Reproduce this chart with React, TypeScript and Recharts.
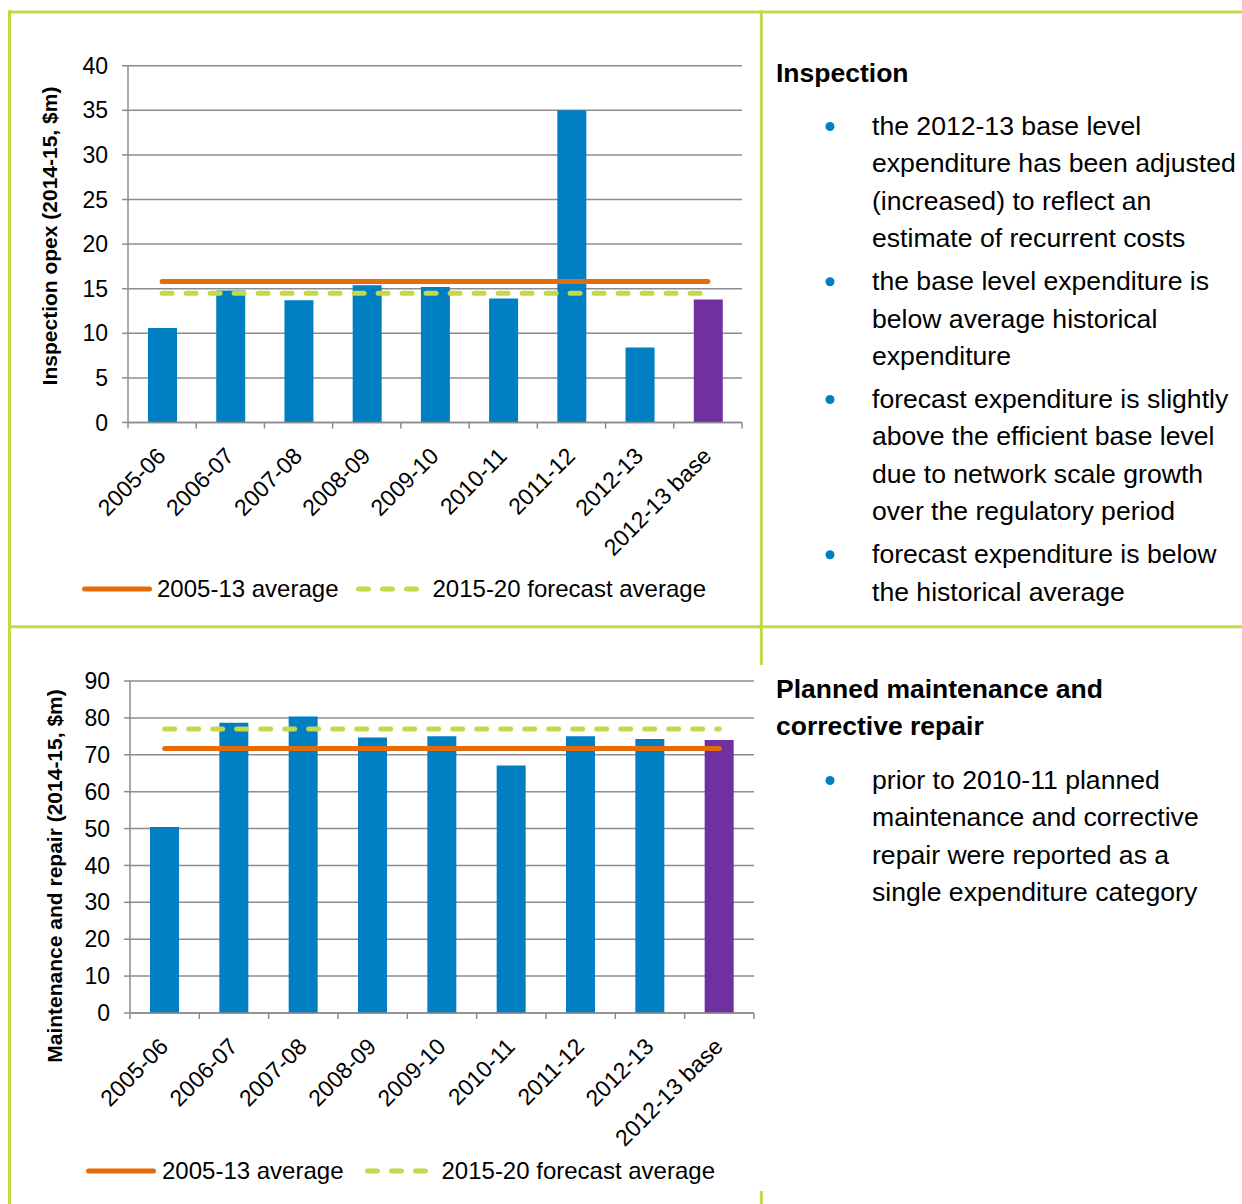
import React from 'react';
import { ComposedChart, Bar, Line, XAxis, YAxis, CartesianGrid, Legend, Cell, Label } from 'recharts';

// ---- data ----
const categories = ['2005-06', '2006-07', '2007-08', '2008-09', '2009-10', '2010-11', '2011-12', '2012-13', '2012-13 base'];

const inspectionValues = [10.6, 14.8, 13.7, 15.4, 15.2, 13.9, 35.0, 8.4, 13.8];
const inspectionHistoricAverage = 15.8;
const inspectionForecastAverage = 14.5;
const inspectionTicks = [0, 5, 10, 15, 20, 25, 30, 35, 40];

const maintenanceValues = [50.4, 78.7, 80.4, 74.7, 75.0, 67.1, 75.0, 74.3, 74.0];
const maintenanceHistoricAverage = 71.7;
const maintenanceForecastAverage = 77.0;
const maintenanceTicks = [0, 10, 20, 30, 40, 50, 60, 70, 80, 90];

const historicName = '2005-13 average';
const forecastName = '2015-20 forecast average';

const inspectionTitle = ['Inspection'];
const inspectionNotes = [
  ['the 2012-13 base level', 'expenditure has been adjusted', '(increased) to reflect an', 'estimate of recurrent costs'],
  ['the base level expenditure is', 'below average historical', 'expenditure'],
  ['forecast expenditure is slightly', 'above the efficient base level', 'due to network scale growth', 'over the regulatory period'],
  ['forecast expenditure is below', 'the historical average'],
];
const maintenanceTitle = ['Planned maintenance and', 'corrective repair'];
const maintenanceNotes = [
  ['prior to 2010-11 planned', 'maintenance and corrective', 'repair were reported as a', 'single expenditure category'],
];

// ---- styles ----
const FONT = "'Liberation Sans', Arial, Helvetica, sans-serif";
const BLUE = '#0080c3';
const PURPLE = '#7030a0';
const ORANGE = '#e46c0a';
const LIME = '#c5d84a';
const GRID = '#8c8c8c';
const BORDER = '#c4d745';
const DASH = '10 14';

type Frame = {
  top: number;
  width: number;
  height: number;
  plotLeft: number;
  plotTop: number;
  plotRight: number;
  plotBottom: number;
  legendTop: number;
  legendLeft: number;
  legendGaps: [number, number, number];
  labelX: number;
  labelY: number;
};

const X_AXIS_HEIGHT = 140;
const LEGEND_HEIGHT = 30;

function OpexChart(props: {
  values: number[];
  historic: number;
  forecast: number;
  ticks: number[];
  yLabel: string;
  frame: Frame;
}) {
  const { values, historic, forecast, ticks, yLabel, frame } = props;
  const data = categories.map((name, i) => ({ name, value: values[i], historic, forecast }));
  const step = (frame.plotRight - frame.plotLeft) / categories.length;
  const margin = {
    top: frame.plotTop,
    right: frame.width - frame.plotRight,
    left: 0,
    bottom: frame.height - frame.plotBottom - X_AXIS_HEIGHT - LEGEND_HEIGHT,
  };

  // category label rotated 45°, plus tick marks on the category boundaries
  const renderTick = (p: any) => {
    const { x, y, payload, index } = p;
    const lx = x + 5;
    const ly = y + 35;
    return (
      <g>
        <line x1={x - step / 2} y1={y} x2={x - step / 2} y2={y + 6} stroke={GRID} strokeWidth={1.5} />
        {index === categories.length - 1 && (
          <line x1={x + step / 2} y1={y} x2={x + step / 2} y2={y + 6} stroke={GRID} strokeWidth={1.5} />
        )}
        <text
          x={lx}
          y={ly}
          transform={`rotate(-45 ${lx} ${ly})`}
          textAnchor="end"
          fontSize={23}
          fill="#000"
        >
          {payload.value}
        </text>
      </g>
    );
  };

  const [g0, g1, g2] = frame.legendGaps;
  const renderLegend = (lp: any) => {
    const items = (lp.payload || []).filter((e: any) => e.dataKey !== 'value');
    return (
      <div
        style={{
          display: 'flex',
          alignItems: 'center',
          height: LEGEND_HEIGHT,
          fontSize: 24,
          color: '#000',
          whiteSpace: 'nowrap',
          fontFamily: FONT,
        }}
      >
        {items.map((e: any, i: number) => {
          const dashed = e.dataKey === 'forecast';
          const w = dashed ? 63 : 70;
          return (
            <React.Fragment key={i}>
              <svg width={w} height={10} style={{ marginLeft: i === 0 ? 0 : g1, display: 'block' }}>
                <line
                  x1={2.5}
                  y1={5}
                  x2={w - 2.5}
                  y2={5}
                  stroke={e.color}
                  strokeWidth={5}
                  strokeLinecap="round"
                  strokeDasharray={dashed ? DASH : undefined}
                />
              </svg>
              <span style={{ marginLeft: dashed ? g2 : g0 }}>{e.value}</span>
            </React.Fragment>
          );
        })}
      </div>
    );
  };

  return (
    <div style={{ position: 'absolute', left: 0, top: frame.top, width: frame.width, height: frame.height }}>
      <ComposedChart width={frame.width} height={frame.height} data={data} margin={margin}>
        <CartesianGrid vertical={false} stroke={GRID} strokeWidth={1.5} />
        <XAxis
          dataKey="name"
          interval={0}
          height={X_AXIS_HEIGHT}
          tickLine={false}
          tickSize={0}
          tickMargin={0}
          axisLine={{ stroke: GRID, strokeWidth: 1.5 }}
          tick={renderTick}
        />
        <YAxis
          type="number"
          domain={[ticks[0], ticks[ticks.length - 1]]}
          ticks={ticks}
          interval={0}
          width={frame.plotLeft}
          tickSize={6}
          tickMargin={14}
          axisLine={{ stroke: GRID, strokeWidth: 1.5 }}
          tickLine={{ stroke: GRID, strokeWidth: 1.5 }}
          tick={{ fontSize: 23, fill: '#000' }}
        >
          <Label
            content={() => (
              <text
                x={frame.labelX}
                y={frame.labelY}
                transform={`rotate(-90 ${frame.labelX} ${frame.labelY})`}
                textAnchor="middle"
                fontSize={21}
                fontWeight="bold"
                fill="#000"
              >
                {yLabel}
              </text>
            )}
          />
        </YAxis>
        <Bar dataKey="value" barSize={29} legendType="none" isAnimationActive={false}>
          {data.map((d) => (
            <Cell key={d.name} fill={d.name.includes('base') ? PURPLE : BLUE} />
          ))}
        </Bar>
        <Line
          type="linear"
          dataKey="historic"
          name={historicName}
          stroke={ORANGE}
          strokeWidth={5}
          strokeLinecap="round"
          dot={false}
          activeDot={false}
          isAnimationActive={false}
        />
        <Line
          type="linear"
          dataKey="forecast"
          name={forecastName}
          stroke={LIME}
          strokeWidth={5}
          strokeLinecap="round"
          strokeDasharray={DASH}
          dot={false}
          activeDot={false}
          isAnimationActive={false}
        />
        <Legend
          verticalAlign="bottom"
          wrapperStyle={{
            top: frame.legendTop,
            left: frame.legendLeft,
            bottom: 'auto',
            width: 'auto',
            height: LEGEND_HEIGHT,
          }}
          content={renderLegend}
        />
      </ComposedChart>
    </div>
  );
}

// ---- commentary column ----
const LINE_H = 37.4;
const PARA_EXTRA = 5.6;
const NOTE_SIZE = 26.6;

function Notes(props: { title: string[]; titleTop: number; notes: string[][]; notesTop: number }) {
  const { title, titleTop, notes, notesTop } = props;
  const out: React.ReactNode[] = [];
  title.forEach((t, i) => {
    out.push(
      <text key={`t${i}`} x={776} y={titleTop + i * 37} fontSize={26.5} fontWeight="bold" fill="#000">
        {t}
      </text>
    );
  });
  let y = notesTop;
  notes.forEach((para, pi) => {
    out.push(<circle key={`b${pi}`} cx={830} cy={y - 8.5} r={4.5} fill={BLUE} />);
    para.forEach((line, li) => {
      out.push(
        <text key={`n${pi}-${li}`} x={872} y={y} fontSize={NOTE_SIZE} fill="#000">
          {line}
        </text>
      );
      y += LINE_H;
    });
    y += PARA_EXTRA;
  });
  return <g>{out}</g>;
}

export default function App() {
  const frame1: Frame = {
    top: 0,
    width: 760,
    height: 620,
    plotLeft: 128,
    plotTop: 65.7,
    plotRight: 742,
    plotBottom: 422.5,
    legendTop: 574,
    legendLeft: 82,
    legendGaps: [5, 18, 13],
    labelX: 57,
    labelY: 236,
  };
  const frame2: Frame = {
    top: 627,
    width: 764,
    height: 577,
    plotLeft: 130,
    plotTop: 54,
    plotRight: 754,
    plotBottom: 386,
    legendTop: 529,
    legendLeft: 86,
    legendGaps: [6, 22, 13],
    labelX: 62,
    labelY: 249,
  };

  return (
    <div
      style={{
        position: 'absolute',
        left: 0,
        top: 0,
        width: 1242,
        height: 1204,
        background: '#fff',
        fontFamily: FONT,
        overflow: 'hidden',
      }}
    >
      <svg width={1242} height={1204} style={{ position: 'absolute', left: 0, top: 0 }} fontFamily={FONT}>
        {/* table rules */}
        <line x1={8} y1={12} x2={1242} y2={12} stroke={BORDER} strokeWidth={3} />
        <line x1={9.5} y1={10.5} x2={9.5} y2={1204} stroke={BORDER} strokeWidth={3} />
        <line x1={8} y1={626.7} x2={1242} y2={626.7} stroke={BORDER} strokeWidth={3} />
        <line x1={761.3} y1={10.5} x2={761.3} y2={665} stroke={BORDER} strokeWidth={3} />
        <line x1={761.3} y1={1191} x2={761.3} y2={1204} stroke={BORDER} strokeWidth={3} />
        <Notes title={inspectionTitle} titleTop={82} notes={inspectionNotes} notesTop={135} />
        <Notes title={maintenanceTitle} titleTop={698} notes={maintenanceNotes} notesTop={789} />
      </svg>
      <OpexChart
        values={inspectionValues}
        historic={inspectionHistoricAverage}
        forecast={inspectionForecastAverage}
        ticks={inspectionTicks}
        yLabel="Inspection opex (2014-15, $m)"
        frame={frame1}
      />
      <OpexChart
        values={maintenanceValues}
        historic={maintenanceHistoricAverage}
        forecast={maintenanceForecastAverage}
        ticks={maintenanceTicks}
        yLabel="Maintenance and repair (2014-15, $m)"
        frame={frame2}
      />
    </div>
  );
}
